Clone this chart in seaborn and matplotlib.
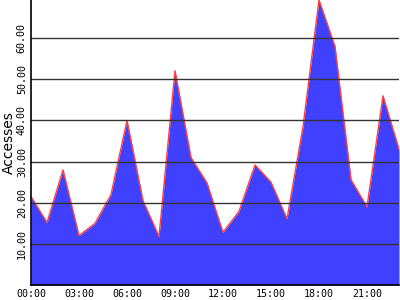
import matplotlib
matplotlib.use("Agg")
import matplotlib.pyplot as plt
import seaborn as sns
import pandas as pd
import numpy as np

hours = list(range(24))
accesses = [21.5, 15.2, 28.0, 12.0, 15.0, 22.0, 40.0, 20.5, 11.8, 52.1, 31.0, 24.8,
            12.8, 17.9, 29.2, 25.0, 16.1, 38.5, 69.3, 58.0, 25.6, 19.0, 46.0, 33.0]
xtick_pos = [0, 3, 6, 9, 12, 15, 18, 21]
xtick_labels = ["00:00", "03:00", "06:00", "09:00", "12:00", "15:00", "18:00", "21:00"]
ytick_pos = [10, 20, 30, 40, 50, 60]
ytick_labels = ["10.00", "20.00", "30.00", "40.00", "50.00", "60.00"]

df = pd.DataFrame({"hour": hours, "accesses": accesses})

sns.set_theme(style="white")
fig = plt.figure(figsize=(4, 3), dpi=100)
ax = fig.add_axes([31 / 400, 15 / 300, 368 / 400, 285 / 300])

ax.fill_between(df["hour"], df["accesses"], 0, color="#4040FF", linewidth=0, zorder=2)
sns.lineplot(data=df, x="hour", y="accesses", ax=ax, color="#FF4040", linewidth=1.0, zorder=3)

ax.set_xlim(0, 23)
ax.set_ylim(0, max(accesses))
for y in ytick_pos:
    ax.axhline(y, color="#333333", linewidth=1.0, zorder=4)

mono = "DejaVu Sans Mono"
ax.set_xticks(xtick_pos)
ax.set_xticklabels(xtick_labels, fontfamily=mono, fontsize=7.2, color="black")
ax.set_yticks(ytick_pos)
ax.set_yticklabels(ytick_labels, fontfamily=mono, fontsize=7.2, color="black",
                   rotation=90, va="center")
ax.tick_params(axis="both", length=0, pad=3)
ax.set_xlabel("")
ax.set_ylabel("Accesses", fontfamily="DejaVu Sans", fontsize=10, color="black")
ax.yaxis.set_label_coords(-15 / 368, 0.5)

for s in ["top", "right"]:
    ax.spines[s].set_visible(False)
for s in ["left", "bottom"]:
    ax.spines[s].set_color("black")
    ax.spines[s].set_linewidth(1.2)
    ax.spines[s].set_zorder(5)

fig.savefig("out.png", dpi=100)
